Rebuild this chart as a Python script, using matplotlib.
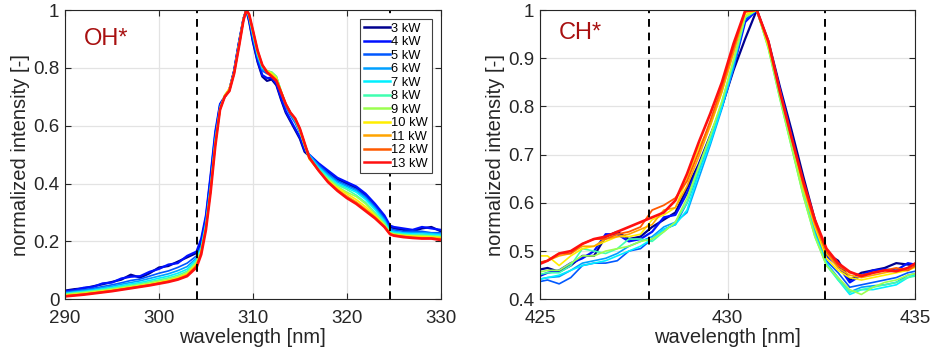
import numpy as np
import matplotlib
matplotlib.use('Agg')
import matplotlib.pyplot as plt
from matplotlib.ticker import FormatStrFormatter

plt.rcParams['font.family'] = ['Liberation Sans', 'DejaVu Sans']

# legend labels
powers = ['3 kW', '4 kW', '5 kW', '6 kW', '7 kW', '8 kW', '9 kW', '10 kW', '11 kW', '12 kW', '13 kW']

# OH* band, wavelength grid [nm]
wl_oh = [290, 291, 292, 293, 294, 295, 296, 297, 298, 299, 300, 301, 302, 303,
         304, 304.5, 305, 305.5, 306, 306.5, 307, 307.5, 308, 308.5, 309, 309.3, 309.6,
         310, 310.5, 311, 311.5, 312, 312.5, 313, 313.5, 314, 314.5, 315, 315.5, 316,
         317, 318, 319, 320, 321, 322, 323, 324, 324.6,
         325, 326, 327, 328, 329, 330]

oh_3 = [.030, .035, .038, .045, .052, .060, .068, .085, .075, .090, .110, .115, .130, .145,
        .160, .20, .28, .42, .57, .67, .70, .725, .79, .885, .97, 1.0, .96,
        .89, .82, .77, .755, .76, .74, .69, .645, .615, .585, .555, .51, .495,
        .465, .44, .415, .40, .385, .36, .325, .285, .25,
        .245, .24, .235, .245, .25, .235]
oh_4 = [.028, .032, .040, .043, .055, .058, .072, .078, .080, .095, .105, .120, .125, .150,
        .165, .21, .29, .43, .58, .675, .70, .725, .79, .885, .97, 1.0, .965,
        .895, .825, .775, .765, .765, .745, .695, .65, .62, .59, .56, .515, .50,
        .47, .445, .42, .405, .39, .365, .33, .29, .255,
        .25, .245, .24, .25, .245, .24]
oh_5 = [.025, .029, .033, .038, .044, .050, .057, .065, .070, .080, .090, .098, .110, .125,
        .150, .185, .27, .40, .56, .67, .70, .725, .785, .88, .97, 1.0, .97,
        .905, .835, .79, .78, .775, .76, .71, .665, .635, .61, .575, .53, .50,
        .465, .435, .41, .395, .38, .355, .32, .28, .245,
        .24, .235, .235, .235, .23, .23]
oh_6 = [.022, .026, .030, .034, .040, .045, .052, .058, .064, .072, .080, .088, .099, .113,
        .143, .18, .265, .395, .555, .665, .70, .725, .785, .88, .97, 1.0, .975,
        .91, .84, .795, .785, .78, .765, .715, .67, .64, .615, .58, .535, .50,
        .46, .43, .405, .39, .375, .35, .315, .275, .24,
        .235, .23, .23, .23, .228, .225]
oh_7 = [.020, .024, .027, .031, .036, .041, .047, .053, .058, .065, .073, .080, .090, .104,
        .138, .176, .26, .39, .55, .66, .70, .725, .785, .88, .97, 1.0, .975,
        .915, .845, .80, .79, .785, .77, .72, .675, .645, .62, .585, .535, .495,
        .455, .425, .40, .385, .37, .345, .31, .27, .235,
        .232, .228, .226, .225, .225, .222]
oh_8 = [.018, .022, .025, .029, .033, .038, .043, .049, .054, .060, .067, .074, .083, .097,
        .132, .173, .255, .385, .545, .66, .705, .725, .785, .88, .97, 1.0, .98,
        .92, .85, .805, .79, .785, .77, .72, .675, .645, .62, .585, .535, .49,
        .45, .42, .395, .38, .36, .335, .30, .265, .232,
        .228, .225, .222, .222, .22, .218]
oh_9 = [.016, .020, .023, .027, .031, .035, .040, .045, .050, .056, .063, .069, .078, .092,
        .127, .17, .25, .38, .54, .66, .705, .725, .78, .875, .97, 1.0, .98,
        .92, .85, .805, .79, .785, .77, .72, .675, .645, .62, .58, .53, .485,
        .445, .415, .39, .37, .355, .33, .295, .26, .23,
        .226, .222, .22, .22, .218, .215]
oh_10 = [.014, .017, .020, .024, .028, .032, .037, .042, .047, .052, .059, .065, .074, .088,
         .122, .166, .25, .38, .54, .655, .705, .73, .785, .875, .97, 1.0, .98,
         .925, .855, .81, .79, .78, .765, .72, .675, .645, .625, .585, .535, .485,
         .445, .41, .385, .365, .345, .32, .29, .255, .228,
         .224, .22, .218, .216, .215, .213]
oh_11 = [.012, .015, .018, .022, .026, .030, .035, .040, .045, .050, .056, .063, .071, .085,
         .118, .163, .245, .375, .535, .655, .705, .725, .78, .87, .965, 1.0, .985,
         .93, .86, .81, .785, .775, .76, .72, .675, .645, .625, .59, .54, .49,
         .445, .408, .38, .357, .337, .312, .285, .252, .226,
         .222, .218, .215, .213, .212, .21]
oh_12 = [.011, .014, .017, .021, .025, .029, .034, .039, .044, .049, .055, .061, .069, .081,
         .115, .16, .245, .375, .535, .655, .70, .72, .78, .87, .965, 1.0, .985,
         .93, .86, .81, .785, .772, .757, .717, .675, .645, .625, .59, .54, .49,
         .445, .406, .377, .352, .332, .307, .282, .25, .225,
         .221, .217, .213, .211, .211, .207]
oh_13 = [.010, .013, .016, .020, .024, .028, .033, .038, .043, .048, .054, .060, .068, .080,
         .110, .155, .24, .37, .53, .655, .70, .72, .78, .87, .965, 1.0, .985,
         .93, .86, .81, .785, .77, .755, .715, .675, .645, .625, .59, .54, .49,
         .445, .405, .375, .35, .33, .305, .28, .25, .225,
         .22, .215, .212, .21, .21, .205]

# CH* band, wavelength grid [nm]
wl_ch = [424.89, 425.20, 425.51, 425.82, 426.13, 426.44, 426.75, 427.06, 427.37, 427.68, 427.99,
         428.30, 428.61, 428.92, 429.23, 429.54, 429.85, 430.16, 430.47, 430.78,
         431.09, 431.40, 431.71, 432.02, 432.33, 432.64,
         432.95, 433.26, 433.57, 433.88, 434.19, 434.50, 434.81, 435.12]

ch_3 = [.46, .465, .457, .47, .49, .49, .53, .54, .525, .53, .55,
        .565, .58, .63, .68, .74, .80, .875, .94, 1.0,
        .935, .84, .75, .655, .565, .495,
        .48, .44, .455, .46, .465, .475, .472, .47]
ch_4 = [.445, .455, .46, .475, .485, .50, .535, .535, .52, .525, .54,
        .57, .575, .62, .675, .735, .80, .88, .975, 1.0,
        .93, .835, .74, .64, .555, .49,
        .47, .435, .45, .46, .462, .46, .475, .47]
ch_5 = [.435, .44, .432, .445, .47, .475, .475, .48, .50, .505, .525,
        .545, .555, .60, .665, .73, .80, .885, .98, 1.0,
        .93, .83, .73, .63, .545, .48,
        .455, .425, .43, .435, .44, .445, .455, .46]
ch_6 = [.44, .445, .447, .46, .475, .48, .485, .495, .51, .52, .53,
        .55, .56, .58, .65, .72, .795, .88, .985, 1.0,
        .925, .82, .72, .62, .54, .475,
        .445, .415, .425, .428, .43, .435, .45, .455]
ch_7 = [.44, .445, .45, .46, .47, .475, .48, .49, .50, .51, .525,
        .545, .555, .585, .66, .725, .80, .89, .985, 1.0,
        .925, .82, .72, .62, .535, .475,
        .44, .41, .42, .42, .425, .43, .445, .455]
ch_8 = [.45, .455, .455, .47, .505, .50, .495, .505, .525, .525, .52,
        .54, .56, .60, .67, .735, .81, .895, .985, 1.0,
        .92, .815, .715, .615, .53, .47,
        .44, .415, .42, .425, .43, .435, .445, .45]
ch_9 = [.455, .46, .46, .475, .49, .49, .50, .505, .51, .52, .525,
        .54, .56, .61, .675, .74, .81, .895, .985, 1.0,
        .92, .815, .715, .615, .53, .47,
        .445, .42, .41, .425, .435, .44, .45, .455]
ch_10 = [.49, .49, .47, .49, .505, .51, .52, .53, .53, .535, .565,
         .575, .59, .65, .715, .76, .83, .925, .99, 1.0,
         .925, .83, .73, .63, .55, .485,
         .46, .445, .44, .445, .45, .455, .46, .47]
ch_11 = [.475, .48, .49, .495, .51, .51, .525, .53, .535, .545, .555,
         .585, .59, .635, .695, .76, .83, .91, .995, 1.0,
         .93, .83, .735, .635, .555, .495,
         .465, .45, .445, .45, .455, .46, .46, .475]
ch_12 = [.475, .48, .495, .495, .515, .525, .525, .535, .54, .55, .585,
         .595, .61, .645, .705, .77, .84, .92, .998, 1.0,
         .935, .83, .735, .64, .56, .50,
         .47, .455, .45, .455, .46, .465, .46, .475]
ch_13 = [.47, .48, .495, .50, .515, .525, .53, .54, .55, .56, .57,
         .58, .605, .66, .725, .785, .85, .93, .998, 1.0,
         .935, .83, .735, .645, .565, .505,
         .475, .457, .448, .455, .46, .458, .465, .48]

oh_all = [oh_3, oh_4, oh_5, oh_6, oh_7, oh_8, oh_9, oh_10, oh_11, oh_12, oh_13]
ch_all = [ch_3, ch_4, ch_5, ch_6, ch_7, ch_8, ch_9, ch_10, ch_11, ch_12, ch_13]

# integration limits (dashed lines)
oh_lim = [304.1, 324.6]
ch_lim = [427.9, 432.6]

colors = ['#00008f', '#0010ff', '#0058ff', '#00a0ff', '#00f0ff', '#40ffb0',
          '#9cff50', '#ffee00', '#ffa400', '#ff5a00', '#ff1010']
widths = [1.6, 1.6, 1.2, 1.2, 1.2, 1.2, 1.2, 1.2, 1.2, 1.3, 1.9]

fig = plt.figure(figsize=(9.33, 3.56), dpi=100)
ax1 = fig.add_axes([0.0697, 0.1593, 0.4027, 0.8126])
ax2 = fig.add_axes([0.5788, 0.1593, 0.4019, 0.8126])

txt = '#262626'

def style(ax):
    ax.grid(True, color='#e3e3e3', lw=0.9)
    ax.set_axisbelow(True)
    ax.tick_params(direction='in', top=True, right=True, length=4, width=0.8,
                   labelsize=13.5, colors=txt)
    ax.tick_params(axis='x', pad=8)
    ax.tick_params(axis='y', pad=4)
    for s in ax.spines.values():
        s.set_color('#262626')
        s.set_linewidth(0.8)
    ax.yaxis.set_major_formatter(FormatStrFormatter('%g'))
    ax.set_xlabel('wavelength [nm]', fontsize=14.5, color=txt, labelpad=0.5)
    ax.set_ylabel('normalized intensity [-]', fontsize=14.5, color=txt, labelpad=2)

for i in range(len(powers)):
    ax1.plot(wl_oh, oh_all[i], color=colors[i], lw=widths[i], label=powers[i])
for x in oh_lim:
    ax1.axvline(x, color='k', ls=(0, (4, 3)), lw=1.4)
ax1.set_xlim(290, 330)
ax1.set_ylim(0, 1)
ax1.set_xticks([290, 300, 310, 320, 330])
ax1.set_yticks([0, 0.2, 0.4, 0.6, 0.8, 1])
style(ax1)
ax1.text(0.05, 0.9, 'OH*', transform=ax1.transAxes, fontsize=17, color='#a81010', va='center')
leg = ax1.legend(loc='upper right', bbox_to_anchor=(0.977, 0.969), borderaxespad=0,
                 fontsize=9.3, handlelength=1.95, handletextpad=0.15, labelspacing=0.11,
                 borderpad=0.3, fancybox=False, framealpha=1, edgecolor='#404040')
leg.get_frame().set_linewidth(0.8)
for line in leg.get_lines():
    line.set_linewidth(1.8)

for i in range(len(powers)):
    ax2.plot(wl_ch, ch_all[i], color=colors[i], lw=widths[i])
for x in ch_lim:
    ax2.axvline(x, color='k', ls=(0, (4, 3)), lw=1.4)
ax2.set_xlim(425, 435)
ax2.set_ylim(0.4, 1)
ax2.set_xticks([425, 430, 435])
ax2.set_yticks([0.4, 0.5, 0.6, 0.7, 0.8, 0.9, 1])
style(ax2)
ax2.text(0.05, 0.92, 'CH*', transform=ax2.transAxes, fontsize=17, color='#a81010', va='center')

fig.savefig('out.png', dpi=100)
